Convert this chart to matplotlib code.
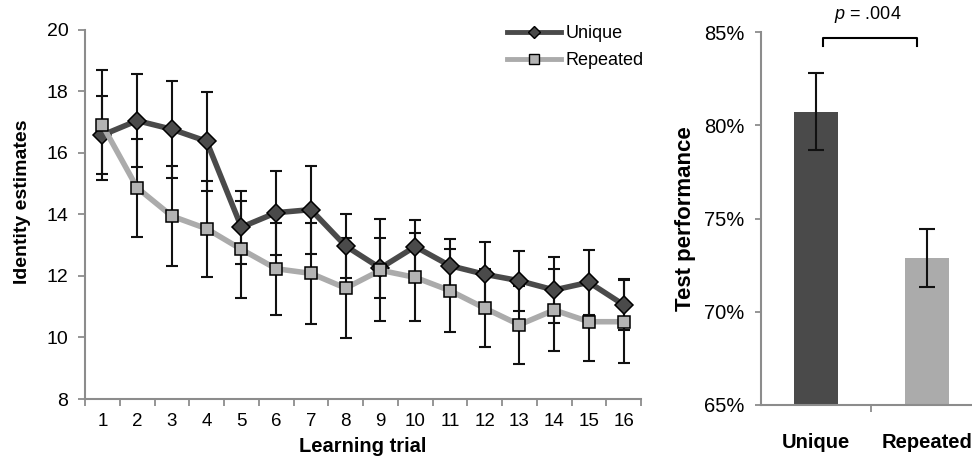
import matplotlib
matplotlib.use('Agg')
import matplotlib.pyplot as plt
from matplotlib.lines import Line2D
import numpy as np

plt.rcParams['font.family'] = ['Liberation Sans', 'DejaVu Sans']
plt.rcParams['mathtext.fontset'] = 'custom'
plt.rcParams['mathtext.rm'] = 'Liberation Sans'
plt.rcParams['mathtext.it'] = 'Liberation Sans:italic'

# learning phase data
trials = list(range(1, 17))
unique_mean = [16.57, 17.04, 16.76, 16.37, 13.58, 14.05, 14.15, 12.97,
               12.25, 12.95, 12.33, 12.05, 11.84, 11.54, 11.79, 11.06]
unique_err = [1.27, 1.50, 1.58, 1.60, 1.18, 1.37, 1.43, 1.05,
              0.97, 0.87, 0.87, 1.06, 0.97, 1.08, 1.05, 0.83]
repeated_mean = [16.90, 14.86, 13.94, 13.53, 12.86, 12.23, 12.08, 11.60,
                 12.18, 11.95, 11.52, 10.95, 10.41, 10.89, 10.51, 10.51]
repeated_err = [1.80, 1.60, 1.63, 1.56, 1.58, 1.50, 1.64, 1.63,
                1.65, 1.43, 1.35, 1.27, 1.27, 1.34, 1.27, 1.35]

# test phase data
conditions = ['Unique', 'Repeated']
test_mean = [80.74, 72.90]
test_err = [2.05, 1.57]
p_text = r'$p$ = .004'

dark = '#4a4a4a'
light = '#ababab'
axis_col = '#8c8c8c'

fig = plt.figure(figsize=(9.72, 4.57), dpi=100)
W, H = 972.0, 457.0
ax1 = fig.add_axes([85 / W, 1 - 399 / H, (641 - 85) / W, (399 - 29.5) / H])
ax2 = fig.add_axes([761 / W, 1 - 405 / H, (972 - 761) / W, (405 - 32.3) / H])

# line chart with error bars
ax1.errorbar(trials, unique_mean, yerr=unique_err, fmt='none', ecolor='#111111',
             elinewidth=1.5, capsize=4.3, capthick=1.5, zorder=2)
ax1.errorbar(trials, repeated_mean, yerr=repeated_err, fmt='none', ecolor='#111111',
             elinewidth=1.5, capsize=4.3, capthick=1.5, zorder=2)
ax1.plot(trials, unique_mean, color=dark, lw=4, marker='D', markersize=9.5,
         markerfacecolor=dark, markeredgecolor='black', markeredgewidth=1.1, zorder=3)
ax1.plot(trials, repeated_mean, color=light, lw=4, marker='s', markersize=9,
         markerfacecolor='#b3b3b3', markeredgecolor='black', markeredgewidth=1.1, zorder=4)

ax1.set_xlim(0.5, 16.5)
ax1.set_ylim(8, 20)
ax1.set_yticks([8, 10, 12, 14, 16, 18, 20])
ax1.set_xticks(trials)
ax1.set_xticks(np.arange(0.5, 17, 1), minor=True)
ax1.tick_params(axis='x', which='major', length=0, pad=10, labelsize=13.5)
ax1.tick_params(axis='x', which='minor', length=5, width=1.3, color=axis_col)
ax1.tick_params(axis='y', length=5, width=1.3, color=axis_col, pad=7, labelsize=14)
for s in ['top', 'right']:
    ax1.spines[s].set_visible(False)
for s in ['left', 'bottom']:
    ax1.spines[s].set_color(axis_col)
    ax1.spines[s].set_linewidth(1.5)
ax1.set_xlabel('Learning trial', fontsize=14.5, fontweight='bold', labelpad=5)
ax1.set_ylabel('Identity estimates', fontsize=14, fontweight='bold')
ax1.yaxis.set_label_coords(-0.098, 0.533)

handles = [Line2D([], [], color=dark, lw=3.5, marker='D', markersize=6,
                  markerfacecolor=dark, markeredgecolor='black'),
           Line2D([], [], color=light, lw=3.5, marker='s', markersize=7,
                  markerfacecolor='#b3b3b3', markeredgecolor='black')]
fig.legend(handles, conditions, loc='upper left', bbox_to_anchor=(507 / W, 1 - 25 / H),
           frameon=False, fontsize=13, handlelength=3.0, handletextpad=0.25,
           labelspacing=0.55, borderpad=0, borderaxespad=0)

# bar chart
xpos = np.arange(len(conditions))
ax2.bar(xpos, test_mean, width=0.4, color=[dark, light], zorder=2)
ax2.errorbar(xpos, test_mean, yerr=test_err, fmt='none', ecolor='#111111',
             elinewidth=1.5, capsize=6, capthick=1.5, zorder=3)
ax2.set_xlim(-0.5, 1.41)
ax2.set_ylim(65, 85)
ax2.set_yticks([65, 70, 75, 80, 85])
ax2.set_yticklabels(['%d%%' % v for v in [65, 70, 75, 80, 85]])
ax2.set_xticks(xpos)
ax2.set_xticklabels(conditions, fontweight='bold', fontsize=14.5)
ax2.set_xticks([0.5], minor=True)
ax2.tick_params(axis='x', which='major', length=0, pad=20)
ax2.tick_params(axis='x', which='minor', length=5, width=1.3, color=axis_col)
ax2.tick_params(axis='y', length=4, width=1.3, color=axis_col, pad=8, labelsize=14.5)
for s in ['top', 'right']:
    ax2.spines[s].set_visible(False)
for s in ['left', 'bottom']:
    ax2.spines[s].set_color(axis_col)
    ax2.spines[s].set_linewidth(1.5)
ax2.set_ylabel('Test performance', fontsize=16, fontweight='bold', labelpad=6)

# significance bracket
ax2.plot([0.06, 0.06, 0.91, 0.91], [84.25, 84.68, 84.68, 84.25], color='black',
         lw=1.5, clip_on=False)
ax2.text(0.47, 85.93, p_text, ha='center', va='center', fontsize=13, clip_on=False)

plt.savefig('out.png', dpi=100)
